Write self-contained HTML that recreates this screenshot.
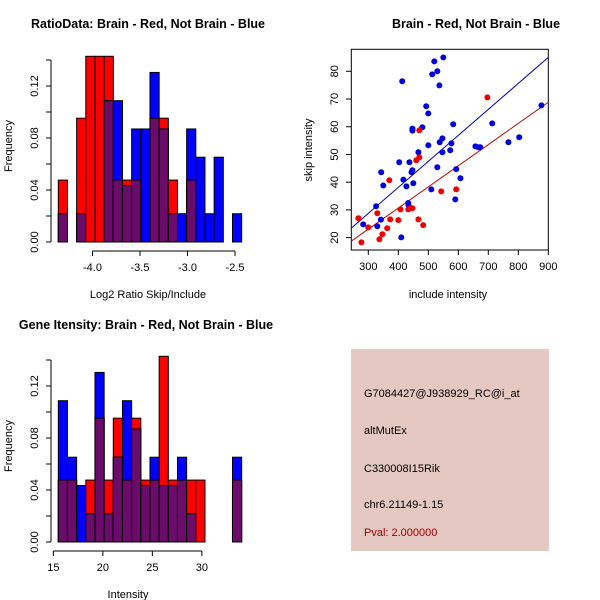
<!DOCTYPE html>
<html><head><meta charset="utf-8"><style>
body{margin:0;background:#fff;}
svg{display:block;font-family:"Liberation Sans",sans-serif;}
</style></head><body>
<svg id="s" width="600" height="600" viewBox="0 0 600 600" xmlns="http://www.w3.org/2000/svg">
<text x="148" y="28" font-size="12.5" font-weight="bold" text-anchor="middle">RatioData: Brain - Red, Not Brain - Blue</text>
<text x="476" y="28" font-size="12.5" font-weight="bold" text-anchor="middle">Brain - Red, Not Brain - Blue</text>
<text x="146" y="329" font-size="12.5" font-weight="bold" text-anchor="middle">Gene Itensity: Brain - Red, Not Brain - Blue</text>
<text x="148" y="298" font-size="11" text-anchor="middle">Log2 Ratio Skip/Include</text>
<text x="128" y="598" font-size="11" text-anchor="middle">Intensity</text>
<text x="448" y="298" font-size="11" text-anchor="middle">include intensity</text>
<text transform="translate(12,146) rotate(-90)" font-size="11" text-anchor="middle">Frequency</text>
<text transform="translate(12,446) rotate(-90)" font-size="11" text-anchor="middle">Frequency</text>
<text transform="translate(312,150) rotate(-90)" font-size="11" text-anchor="middle">skip intensity</text>
<g>
<rect x="351" y="349" width="198" height="202" fill="#e5c8c2"/>
<text x="364" y="397" font-size="11">G7084427@J938929_RC@i_at</text>
<text x="364" y="434" font-size="11">altMutEx</text>
<text x="364" y="472" font-size="11">C330008I15Rik</text>
<text x="364" y="508" font-size="11">chr6.21149-1.15</text>
<text x="364" y="536" font-size="11" fill="#a00000">Pval: 2.000000</text>
</g>
</svg>
<script>
// ---- data ----
const ratioRedCounts  = [1,0,2,3,3,3,1,1,1,0,2,2,1,0,1,0,0,0,0,0];
const ratioBlueCounts = [1,0,1,0,0,5,5,2,4,4,6,4,1,1,4,3,1,3,0,1];
const ratioBinStart = -4.36, ratioBinWidth = 0.0965;
const ratioXTicks = [-4.0,-3.5,-3.0,-2.5];
const intRedCounts  = [1,1,0,1,2,1,2,1,2,1,1,3,1,1,1,1,0,0,0,1];
const intBlueCounts = [5,3,2,1,6,1,3,5,4,2,3,2,2,3,1,0,0,0,0,3];
const intBinStart = 15.5, intBinWidth = 0.926;
const intXTicks = [15,20,25,30];
const freqTicks = [0.00,0.04,0.08,0.12];
const nRed = 21, nBlue = 46;
const blueX = [283,330,326,342,343,350,413,403,417,427,433,434,437,444,447,447,447,450,410,467,480,493,500,500,510,513,520,530,530,537,538,547,547,550,573,577,583,593,590,607,657,667,673,713,767,803,877];
const blueY = [24.8,24.1,31.3,26.5,43.6,38.8,76.4,47.2,40.9,38.5,32.5,31.7,47.2,43.6,44.3,59.3,58.6,39.6,20.1,50.8,59.8,67.4,64.8,53.3,37.4,78.9,83.6,80,45.4,74.9,54.4,55.8,50.8,85.0,51.5,54.0,60.9,44.7,33.8,41.4,52.9,52.6,52.6,61.2,54.4,56.2,67.7];
const redX = [267,277,300,330,337,347,363,370,373,400,407,433,440,447,460,470,470,467,483,543,593,697];
const redY = [27.0,18.3,23.7,28.8,19.4,21.2,23.4,40.7,26.6,26.3,30.2,30.2,30.6,30.6,47.9,49.0,58.7,26.6,24.5,36.7,37.4,70.6];
const fitBlue = [0.6,0.0938];
const fitRed = [0.16,0.0763];
const scatXTicks = [300,400,500,600,700,800,900];
const scatYTicks = [20,30,40,50,60,70,80];

const NS="http://www.w3.org/2000/svg", svg=document.getElementById('s');
function mk(tag,attrs,parent){const e=document.createElementNS(NS,tag);for(const k in attrs)e.setAttribute(k,attrs[k]);(parent||svg).appendChild(e);return e;}

function hist(red,blue,start,width,xTicks,xs0,xsScale,y0,axisY,nameP){
  const g=mk('g',{});
  
  
  const X=v=>xs0+(v-start)*xsScale; const Y=f=>y0-f*1300;
  red.forEach((rc,i)=>{
    const bc=blue[i]; const rf=rc/nRed, bf=bc/nBlue;
    const x1=X(start+i*width), x2=X(start+(i+1)*width);
    if(rc>0){const r=mk('rect',{x:x1,y:Y(rf),width:x2-x1,height:rf*1300,fill:'#ff0000',stroke:'#000','stroke-width':1},g);
      
      }
    if(bc>0){const r=mk('rect',{x:x1,y:Y(bf),width:x2-x1,height:bf*1300,fill:'#0000ff',stroke:'#000','stroke-width':1},g);
      
      }
    if(rc>0&&bc>0){const m=Math.min(rf,bf);const r=mk('rect',{x:x1,y:Y(m),width:x2-x1,height:m*1300,fill:'#6b0c6b',stroke:'#000','stroke-width':1},g);
      
      }
  });
  // y axis
  mk('line',{x1:51,x2:51,y1:Y(0),y2:Y(0.14),stroke:'#000'},g);
  [0,0.02,0.04,0.06,0.08,0.10,0.12,0.14].forEach(t=>mk('line',{x1:46,x2:51,y1:Y(t),y2:Y(t),stroke:'#000'},g));
  freqTicks.forEach(t=>{const tx=mk('text',{transform:`translate(38,${Y(t)}) rotate(-90)`,'font-size':11,'text-anchor':'middle'},g);tx.textContent=t.toFixed(2);
    
    });
  // x axis
  const xa=xTicks.map(X);
  mk('line',{x1:xa[0],x2:xa[xa.length-1],y1:axisY,y2:axisY,stroke:'#000'},g);
  xTicks.forEach(t=>{mk('line',{x1:X(t),x2:X(t),y1:axisY,y2:axisY+5,stroke:'#000'},g);
    const tx=mk('text',{x:X(t),y:axisY+20,'font-size':11,'text-anchor':'middle'},g);tx.textContent=(Number.isInteger(t)&&t>=0)?t:t.toFixed(1);
    
    });
}
hist(ratioRedCounts,ratioBlueCounts,ratioBinStart,ratioBinWidth,ratioXTicks,58.3,95.0,242,251,'ratio');
hist(intRedCounts,intBlueCounts,intBinStart,intBinWidth,intXTicks,58.3,9.9,542,551,'intensity');

// scatter
const sg=mk('g',{});


const SX=v=>368.3+(v-300)*0.3, SY=v=>71.3-(v-80)*2.772;
mk('rect',{x:351.3,y:49.3,width:197,height:200.7,fill:'none',stroke:'#000'},sg);
scatXTicks.forEach(t=>{mk('line',{x1:SX(t),x2:SX(t),y1:250,y2:255,stroke:'#000'},sg);
  const tx=mk('text',{x:SX(t),y:270,'font-size':11,'text-anchor':'middle'},sg);tx.textContent=t;
  
  });
scatYTicks.forEach(t=>{mk('line',{x1:346,x2:351.3,y1:SY(t),y2:SY(t),stroke:'#000'},sg);
  const tx=mk('text',{transform:`translate(338,${SY(t)}) rotate(-90)`,'font-size':11,'text-anchor':'middle'},sg);tx.textContent=t;
  
  });
const x0=243,x1=900;
const lb=mk('line',{x1:SX(x0),y1:SY(fitBlue[0]+fitBlue[1]*x0),x2:SX(x1),y2:SY(fitBlue[0]+fitBlue[1]*x1),stroke:'#0000b0'},sg);


const lr=mk('line',{x1:SX(x0),y1:SY(fitRed[0]+fitRed[1]*x0),x2:SX(x1),y2:SY(fitRed[0]+fitRed[1]*x1),stroke:'#b01010'},sg);


blueX.forEach((v,i)=>{const c=mk('circle',{cx:SX(v),cy:SY(blueY[i]),r:3,fill:'#0000dd'},sg);
  
  });
redX.forEach((v,i)=>{const c=mk('circle',{cx:SX(v),cy:SY(redY[i]),r:3,fill:'#ee0000'},sg);
  
  });
</script>
</body></html>
